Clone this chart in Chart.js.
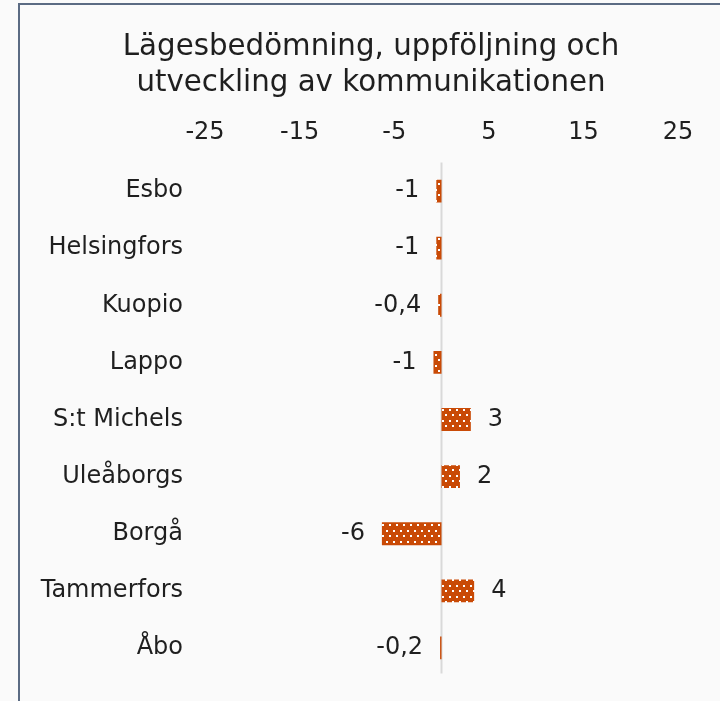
<!DOCTYPE html>
<html>
<head>
<meta charset="utf-8">
<script src="https://cdn.jsdelivr.net/npm/chart.js@4.4.1/dist/chart.umd.min.js"></script>
<style>
html, body { margin: 0; padding: 0; background: #fafafa; overflow: hidden; }
#wrap { position: relative; width: 720px; height: 701px; }
#frame { position: absolute; left: 18px; top: 3px; width: 720px; height: 720px; border: 2px solid #5b6b83; box-sizing: border-box; pointer-events: none; }
</style>
</head>
<body>
<div id="wrap">
  <canvas id="chart" width="720" height="701"></canvas>
  <div id="frame"></div>
</div>
<script>
const titleLines = ['Lägesbedömning, uppföljning och', 'utveckling av kommunikationen'];
const cities = ['Esbo', 'Helsingfors', 'Kuopio', 'Lappo', 'S:t Michels', 'Uleåborgs', 'Borgå', 'Tammerfors', 'Åbo'];
const scores = [-0.55, -0.55, -0.35, -0.85, 3.1, 1.95, -6.3, 3.45, -0.15];
const scoreLabels = ['-1', '-1', '-0,4', '-1', '3', '2', '-6', '4', '-0,2'];
const tickValues = [-25, -15, -5, 5, 15, 25];

Chart.defaults.font.family = "'DejaVu Sans', Verdana, sans-serif";
Chart.defaults.color = '#1f1f1f';

// dotted fill like the excel pattern
function dotPattern() {
    let c = document.createElement('canvas');
    c.width = 7;
    c.height = 11;
    let g = c.getContext('2d');
    g.fillStyle = '#c94a06';
    g.fillRect(0, 0, 7, 11);
    g.fillStyle = '#ffffff';
    g.fillRect(1, 2, 2, 2);
    g.fillRect(4, 7, 2, 2);
    return g.createPattern(c, 'repeat');
}

// title in the reference is centred a bit right of the canvas middle
const titleShift = {
    id: 'titleShift',
    afterLayout(chart) {
        chart.titleBlock.left = 64;
        chart.titleBlock.right = 678;
    }
};

const zeroLine = {
    id: 'zeroLine',
    beforeDatasetsDraw(chart) {
        let ctx = chart.ctx;
        let x = chart.scales.x.getPixelForValue(0);
        ctx.save();
        ctx.strokeStyle = '#d9d9d9';
        ctx.lineWidth = 2;
        ctx.beginPath();
        ctx.moveTo(x, chart.chartArea.top);
        ctx.lineTo(x, chart.chartArea.bottom - 3);
        ctx.stroke();
        ctx.restore();
    }
};

const valueLabels = {
    id: 'valueLabels',
    afterDatasetsDraw(chart) {
        let ctx = chart.ctx;
        let meta = chart.getDatasetMeta(0);
        ctx.save();
        ctx.font = "24px 'DejaVu Sans'";
        ctx.fillStyle = '#1f1f1f';
        ctx.textBaseline = 'middle';
        meta.data.forEach((bar, i) => {
            let neg = scores[i] < 0;
            ctx.textAlign = neg ? 'right' : 'left';
            let x = neg ? bar.x - 17 : bar.x + 17;
            ctx.fillText(scoreLabels[i], x, bar.y);
        });
        ctx.restore();
    }
};

new Chart(document.getElementById('chart'), {
    type: 'bar',
    data: {
        labels: cities,
        datasets: [{
            data: scores,
            backgroundColor: dotPattern(),
            borderWidth: 0,
            barPercentage: 0.4,
            categoryPercentage: 1
        }]
    },
    options: {
        indexAxis: 'y',
        responsive: false,
        animation: false,
        layout: { padding: { left: 10, right: 42, top: 0, bottom: 24.5 } },
        plugins: {
            legend: { display: false },
            tooltip: { enabled: false },
            title: {
                display: true,
                text: titleLines,
                color: '#1f1f1f',
                font: { size: 29.3, weight: 'normal', lineHeight: 36 / 29.3 },
                padding: { top: 29, bottom: 9 }
            }
        },
        scales: {
            x: {
                position: 'top',
                min: -25,
                max: 25,
                grid: { display: false, drawTicks: false },
                border: { display: false },
                ticks: { font: { size: 24 }, padding: 15, maxRotation: 0 },
                afterBuildTicks: (scale) => { scale.ticks = tickValues.map(v => ({ value: v })); },
                afterFit: (scale) => { scale.height = 52.5; }
            },
            y: {
                grid: { display: false, drawTicks: false },
                border: { display: false },
                ticks: { font: { size: 24 }, padding: 22 },
                afterFit: (scale) => {
                    scale.width = 195;
                    scale.paddingTop = 0;
                    scale.paddingBottom = 0;
                }
            }
        }
    },
    plugins: [titleShift, zeroLine, valueLabels]
});
</script>
</body>
</html>
